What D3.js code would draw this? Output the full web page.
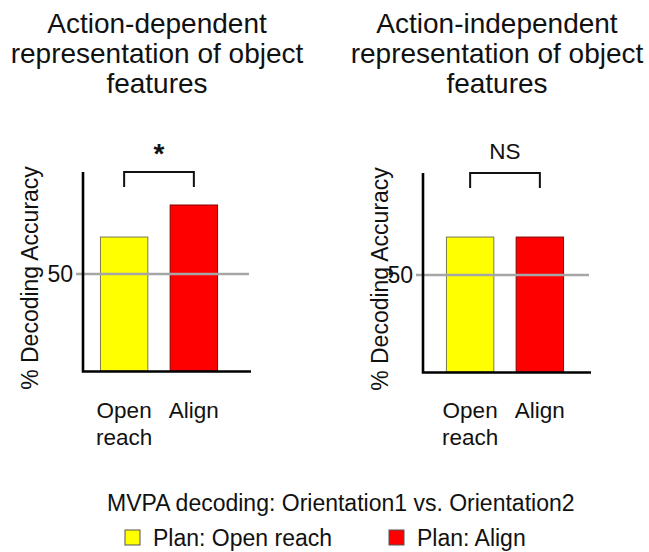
<!DOCTYPE html>
<html>
<head>
<meta charset="utf-8">
<script src="https://cdn.jsdelivr.net/npm/d3@7"></script>
<style>
  body { margin: 0; background: #fff; }
  text { font-family: Arial, "Liberation Sans", sans-serif; fill: #111; }
</style>
</head>
<body>
<div id="chart"></div>
<script>
// values
var titles = [
  ["Action-dependent", "representation of object", "features"],
  ["Action-independent", "representation of object", "features"]
]
var conditions = ["Open reach", "Align"]
var conditionLines = [["Open", "reach"], ["Align"]]
var accuracyDependent = [53.8, 57.1]
var accuracyIndependent = [53.9, 53.9]
var significance = ["*", "NS"]
var chanceLevel = 50
var yTicks = [50]
var legendTitle = "MVPA decoding: Orientation1 vs. Orientation2"
var legendLabels = ["Plan: Open reach", "Plan: Align"]
var colors = ["#ffff00", "#ff0000"]
var strokes = ["#7a7a50", "#800000"]

var width = 649, height = 552

var svg = d3.select("#chart").append("svg")
    .attr("width", width)
    .attr("height", height)

// layout of each panel
var panels = [
  { title: titles[0], values: accuracyDependent, sig: significance[0], axisX: 83, dy: 0, barShift: 0, titleX: 157, labelX: 38 },
  { title: titles[1], values: accuracyIndependent, sig: significance[1], axisX: 423, dy: 1, barShift: 6, titleX: 497, labelX: 388 }
]

var y = d3.scaleLinear().domain([40, 60.5]).range([371, 172])

var x = d3.scaleBand()
    .domain(conditions)
    .range([0, 152])
    .paddingInner(0.32)
    .paddingOuter(0.25)

panels.forEach(function(p) {
  var g = svg.append("g").attr("transform", "translate(0," + p.dy + ")")

  // title
  g.append("text")
      .attr("x", p.titleX)
      .attr("y", 33 - p.dy)
      .attr("text-anchor", "middle")
      .style("font-size", "28px")
    .selectAll("tspan")
      .data(p.title)
    .enter().append("tspan")
      .attr("x", p.titleX)
      .attr("dy", function(d, i) { return i == 0 ? 0 : 30 })
      .text(function(d) { return d })

  var plot = g.append("g").attr("transform", "translate(" + p.axisX + ",0)")
  var bars = plot.append("g").attr("transform", "translate(" + p.barShift + ",0)")

  bars.selectAll("rect.bar")
      .data(p.values)
    .enter().append("rect")
      .attr("class", "bar")
      .attr("x", function(d, i) { return x(conditions[i]) })
      .attr("width", x.bandwidth())
      .attr("y", function(d) { return y(d) })
      .attr("height", function(d) { return y(40) - y(d) })
      .style("fill", function(d, i) { return colors[i] })
      .style("stroke", function(d, i) { return strokes[i] })
      .style("stroke-width", 1)

  // chance line
  plot.selectAll("line.chance")
      .data([chanceLevel])
    .enter().append("line")
      .attr("class", "chance")
      .attr("x1", -7).attr("x2", 166)
      .attr("y1", function(d) { return y(d) })
      .attr("y2", function(d) { return y(d) })
      .style("stroke", "#a6a6a6")
      .style("stroke-width", 2.5)

  // tick label
  plot.selectAll("text.tick")
      .data(yTicks)
    .enter().append("text")
      .attr("class", "tick")
      .attr("x", -10)
      .attr("y", function(d) { return y(d) + 8 })
      .attr("text-anchor", "end")
      .style("font-size", "23px")
      .text(function(d) { return d })

  // axes
  plot.append("path")
      .attr("d", "M0," + y(60.5) + "V" + (y(40) + 0.5) + "H168")
      .style("fill", "none")
      .style("stroke", "#000")
      .style("stroke-width", 2.6)

  // y label
  g.append("text")
      .attr("transform", "translate(" + p.labelX + "," + 278 + ") rotate(-90)")
      .attr("text-anchor", "middle")
      .style("font-size", "23px")
      .text("% Decoding Accuracy")

  // category labels
  var lab = bars.selectAll("text.cat")
      .data(conditions)
    .enter().append("text")
      .attr("class", "cat")
      .attr("x", function(d) { return x(d) + x.bandwidth() / 2 })
      .attr("y", 418 - p.dy)
      .attr("text-anchor", "middle")
      .style("font-size", "22.5px")
  lab.selectAll("tspan")
      .data(function(d, i) { return conditionLines[i] })
    .enter().append("tspan")
      .attr("x", function() { return d3.select(this.parentNode).attr("x") })
      .attr("dy", function(d, i) { return i == 0 ? 0 : 27 })
      .text(function(d) { return d })

  // significance bracket
  var cx0 = x(conditions[0]) + x.bandwidth() / 2,
      cx1 = x(conditions[1]) + x.bandwidth() / 2
  bars.append("path")
      .attr("d", "M" + cx0 + ",187V" + y(60.5) + "H" + cx1 + "V187")
      .style("fill", "none")
      .style("stroke", "#111")
      .style("stroke-width", 2)

  bars.append("text")
      .attr("x", (cx0 + cx1) / 2)
      .attr("y", p.sig == "*" ? 163 : 158)
      .attr("text-anchor", "middle")
      .style("font-size", p.sig == "*" ? "28px" : "22.5px")
      .style("font-weight", p.sig == "*" ? "bold" : "normal")
      .text(p.sig)
})

// legend
svg.append("text")
    .attr("x", 107)
    .attr("y", 511)
    .style("font-size", "23px")
    .text(legendTitle)

var legendX = [125, 389]
var items = svg.selectAll("g.legend")
    .data(legendLabels)
  .enter().append("g")
    .attr("class", "legend")
    .attr("transform", function(d, i) { return "translate(" + legendX[i] + ",530)" })

items.append("rect")
    .attr("width", 15).attr("height", 15)
    .style("fill", function(d, i) { return colors[i] })
    .style("stroke", "#555")
    .style("stroke-width", 1)

items.append("text")
    .attr("x", 28)
    .attr("y", 16)
    .style("font-size", "23px")
    .text(function(d) { return d })
</script>
</body>
</html>
